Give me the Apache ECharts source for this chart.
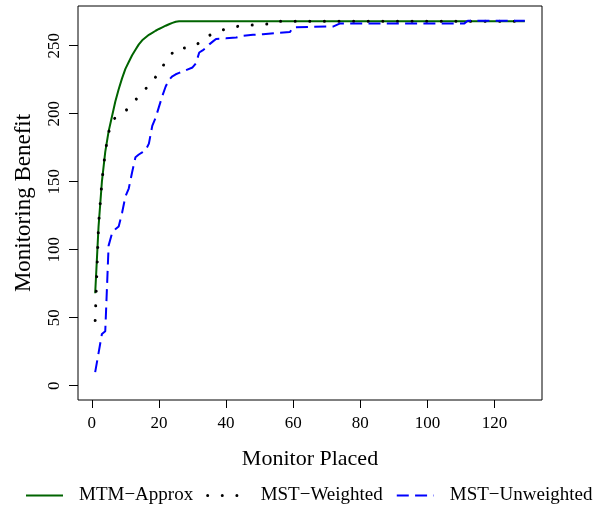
<!DOCTYPE html>
<html>
<head>
<meta charset="utf-8">
<script src="https://cdn.jsdelivr.net/npm/echarts@6/dist/echarts.min.js"></script>
<style>
    html, body {margin: 0; padding: 0; background: #fff;}
    #chart {width: 593px; height: 506px;}
</style>
</head>
<body>
<div id="chart"></div>
<script>
// values
const mtmX = [1, 2, 3, 4, 5, 6, 7, 8, 9, 10, 11, 12, 13, 14, 15, 16, 17, 18, 19, 20, 21, 22, 23, 24, 25, 26, 129];
const mtmY = [68, 117, 150, 172, 187, 198, 209, 218, 226, 233, 238, 243, 247, 251, 254, 256, 258, 259.5, 261, 262.3,
    263.5, 264.7, 265.8, 266.8, 267.6, 268, 268];

const weightedX = [1, 2, 3, 4, 5, 6, 8, 10, 12, 15, 18, 20, 22, 25, 29, 31, 33, 35, 37, 40, 44, 48, 52, 55, 56, 129];
const weightedY = [48, 118, 150, 172, 186, 195, 199, 202, 207, 216, 223, 231, 238, 248, 248.5, 250.5, 253.8, 257.5,
    260, 262.4, 264.5, 265.2, 265.9, 266.2, 268, 268];

const unweightedX = [1, 2, 3, 4, 5, 6, 7, 8, 9, 10, 11, 12, 13, 14, 15, 16, 17, 18, 19, 20, 21, 22, 23, 24, 25, 26,
    30, 31, 32, 33, 34, 35, 36, 37, 40, 43, 45, 48, 51, 56, 59, 60, 72, 74, 111, 112, 129];
const unweightedY = [10, 24, 38, 40, 103, 112, 115, 117, 127, 139, 145, 157, 168, 170, 171.5, 173, 178, 191, 197, 205,
    213, 220, 225, 227.5, 229, 230, 234, 237, 245, 246.5, 248.5, 251, 253, 255, 255.4, 256, 257.2, 258, 258.4, 259.6,
    260, 263.5, 264.2, 266.4, 266.4, 268.3, 268.3];

const xTicks = [0, 20, 40, 60, 80, 100, 120];
const yTicks = [0, 50, 100, 150, 200, 250];

const seriesNames = ['MTM\u2212Approx', 'MST\u2212Weighted', 'MST\u2212Unweighted'];

const font = 'Liberation Serif';
const pair = (xs, ys) => xs.map((x, i) => [x, ys[i]]);

const styles = [
    {color: '#006400', width: 2},
    {color: '#000', width: 3, type: [0.01, 14.6], cap: 'round'},
    {color: '#0000ff', width: 2, type: [12, 6.3], cap: 'butt'},
];

const chart = echarts.init(document.getElementById('chart'), null, {renderer: 'canvas'});

const seriesCommon = {
    type: 'line',
    symbol: 'none',
    showSymbol: false,
    animation: false,
    emphasis: {disabled: true},
};

chart.setOption({
    animation: false,
    textStyle: {fontFamily: font, color: '#000'},
    grid: {
        left: 78, right: 51, top: 6, bottom: 106,
        show: true,
        borderColor: '#000',
        borderWidth: 1,
    },
    legend: {
        left: 25,
        top: 486,
        padding: 0,
        itemWidth: 37,
        itemHeight: 14,
        itemGap: 13,
        itemStyle: {opacity: 0},  // line only, no symbol in the key
        textStyle: {fontFamily: font, fontSize: 19, color: '#000', padding: [0, 0, 0, 11]},
        data: seriesNames.map((name, i) => ({name, lineStyle: {...styles[i]}})),
    },
    xAxis: {
        type: 'value',
        min: -4.12,
        max: 134.12,
        axisLine: {show: false, onZero: false},
        splitLine: {show: false},
        axisTick: {show: true, inside: false, length: 8, customValues: xTicks, lineStyle: {color: '#000'}},
        axisLabel: {customValues: xTicks, fontSize: 17, fontFamily: font, color: '#000', margin: 15},
        name: 'Monitor Placed',
        nameLocation: 'middle',
        nameGap: 48,
        nameTextStyle: {fontFamily: font, fontSize: 22, color: '#000'},
    },
    yAxis: {
        type: 'value',
        min: -10.5,
        max: 279.2,
        axisLine: {show: false, onZero: false},
        splitLine: {show: false},
        axisTick: {show: true, inside: false, length: 9, customValues: yTicks, lineStyle: {color: '#000'}},
        axisLabel: {customValues: yTicks, rotate: 90, fontSize: 17, fontFamily: font, color: '#000', margin: 15},
        name: 'Monitoring Benefit',
        nameLocation: 'middle',
        nameGap: 42.5,
        nameTextStyle: {fontFamily: font, fontSize: 23, color: '#000'},
    },
    series: [{
        ...seriesCommon,
        name: seriesNames[0],
        data: pair(mtmX, mtmY),
        lineStyle: styles[0],
        itemStyle: {color: styles[0].color},
    }, {
        ...seriesCommon,
        name: seriesNames[1],
        data: pair(weightedX, weightedY),
        lineStyle: styles[1],
        itemStyle: {color: styles[1].color},
    }, {
        ...seriesCommon,
        name: seriesNames[2],
        data: pair(unweightedX, unweightedY),
        lineStyle: styles[2],
        itemStyle: {color: styles[2].color},
    }],
});
</script>
</body>
</html>
